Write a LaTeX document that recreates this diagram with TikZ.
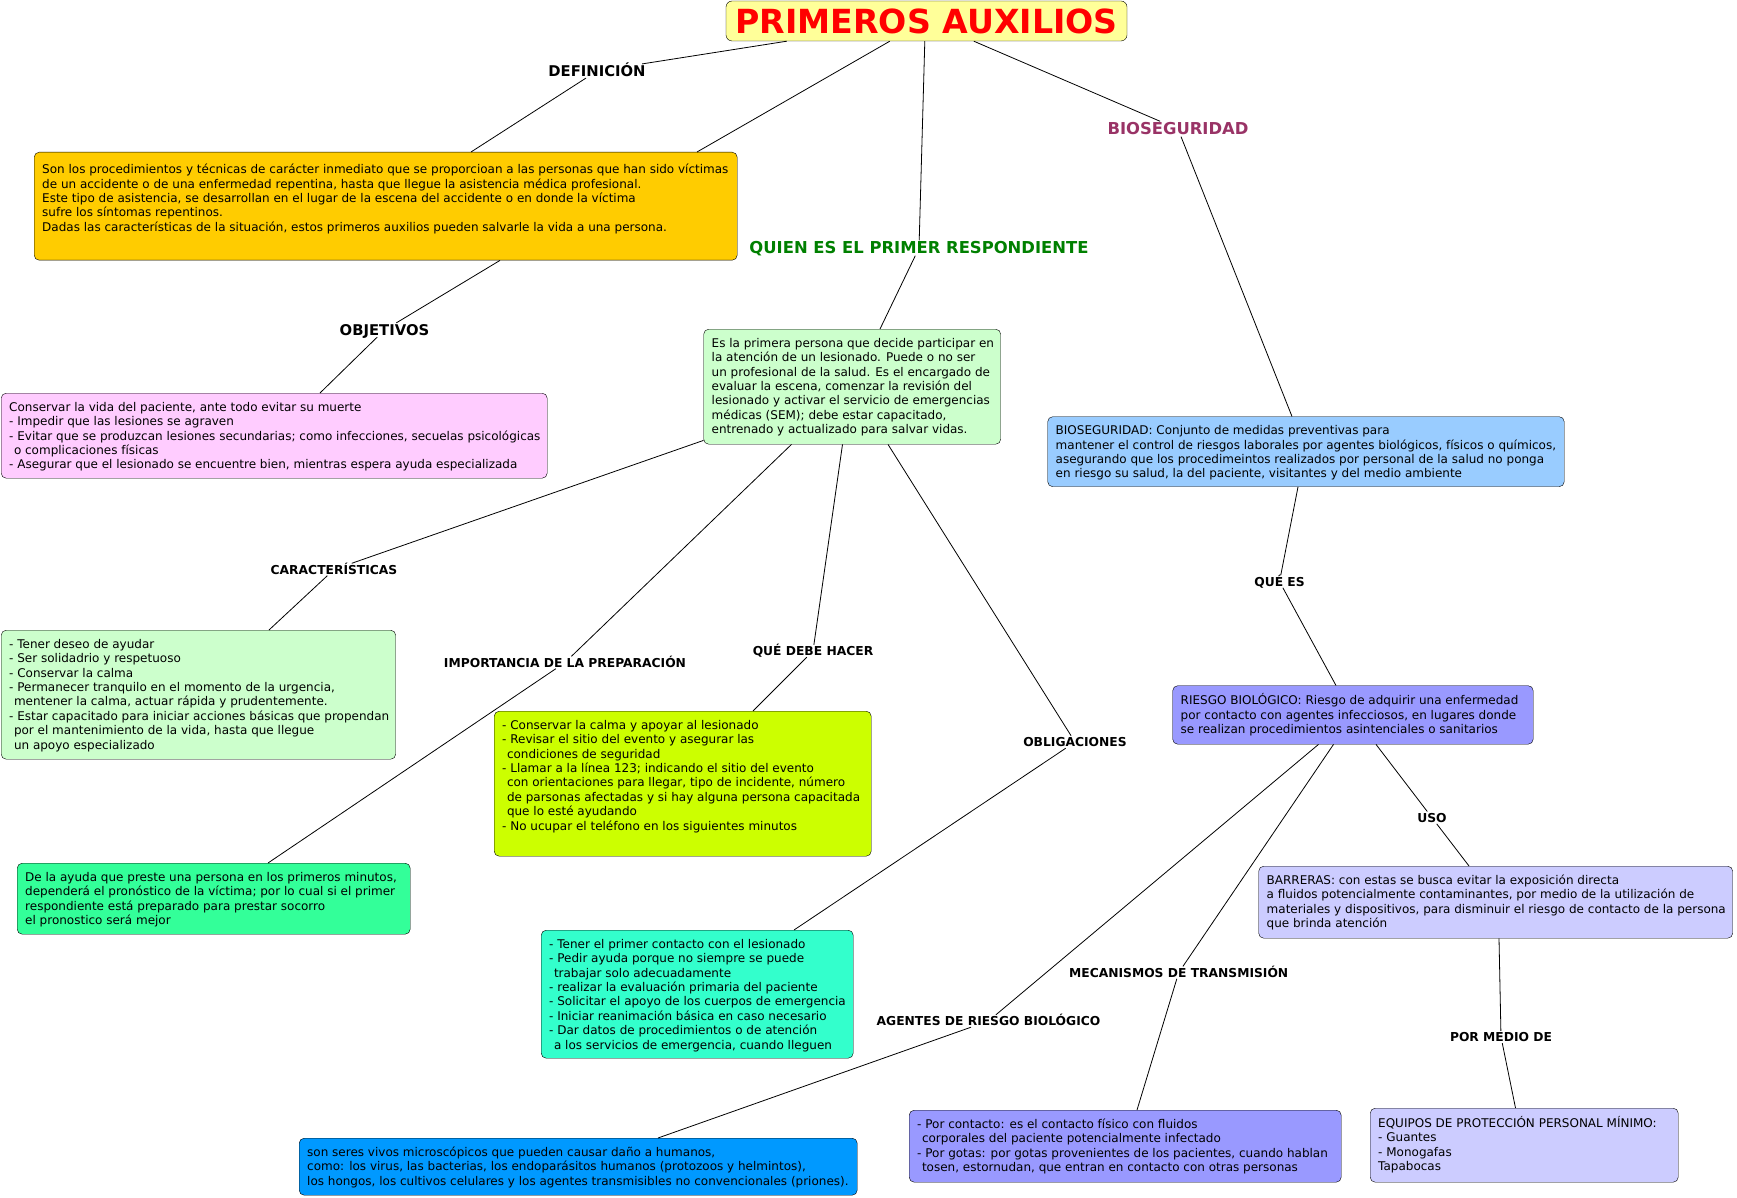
\documentclass[tikz,border=0pt]{standalone}
\usepackage{fontspec}
\setmainfont{DejaVu Sans}
\definecolor{titlefill}{HTML}{FFFF99}
\definecolor{defcol}{HTML}{FFCC00}
\definecolor{objcol}{HTML}{FFCCFF}
\definecolor{mintcol}{HTML}{CCFFCC}
\definecolor{impcol}{HTML}{33FF99}
\definecolor{limecol}{HTML}{CCFF00}
\definecolor{aquacol}{HTML}{33FFCC}
\definecolor{skycol}{HTML}{99CCFF}
\definecolor{violetcol}{HTML}{9999FF}
\definecolor{lilaccol}{HTML}{CCCCFF}
\definecolor{bluecol}{HTML}{0099FF}
\definecolor{biolabel}{HTML}{993366}
\definecolor{quienlabel}{HTML}{008000}
\newcommand{\boxlines}[4][0pt]{\vbox to #3{\vskip#1\hbox to #2{\begin{tabular}[t]{@{}l@{}}#4\end{tabular}\hss}\vss}}

\begin{document}
\begin{tikzpicture}[x=1pt, y=-1pt,
    titlebox/.style={draw, rounded corners=6pt, fill=titlefill, text=red, inner sep=0pt,
                     font=\bfseries\fontsize{33.2}{36}\selectfont,
                     minimum width=401pt, minimum height=40pt},
    cbox/.style={draw, rounded corners=5pt, anchor=north west, inner sep=8pt,
                 font=\fontsize{12}{14.4}\selectfont},
    lbl/.style={font=\bfseries\fontsize{12.3}{14}\selectfont, inner sep=1.5pt,
                text height=9pt, text depth=0pt},
    lblbig/.style={font=\bfseries\fontsize{14.8}{16}\selectfont, inner sep=1.5pt,
                   text height=10.8pt, text depth=0pt},
    lblcol/.style={font=\bfseries\fontsize{16.4}{18}\selectfont, inner sep=1.5pt,
                   text height=12pt, text depth=0pt},
    link/.style={line width=0.8pt}
  ]
  \useasboundingbox (0,0) rectangle (1737,1198);

  \node[titlebox] (title) at (926.5,21) {PRIMEROS AUXILIOS};

  \node[cbox, fill=defcol] (def) at (34,152) {\boxlines[3.5pt]{687pt}{92pt}{%
    Son los procedimientos y técnicas de carácter inmediato que se proporcioan a las personas que han sido víctimas\\
    de un accidente o de una enfermedad repentina, hasta que llegue la asistencia médica profesional.\\
    Este tipo de asistencia, se desarrollan en el lugar de la escena del accidente o en donde la víctima\\
    sufre los síntomas repentinos.\\
    Dadas las características de la situación, estos primeros auxilios pueden salvarle la vida a una persona.}};
  \node[cbox, fill=objcol] (obj) at (1,393) {\boxlines{530pt}{69pt}{%
    Conservar la vida del paciente, ante todo evitar su muerte\\
    - Impedir que las lesiones se agraven\\
    - Evitar que se produzcan lesiones secundarias; como infecciones, secuelas psicológicas\\
    \hspace*{.4em}o complicaciones físicas\\
    - Asegurar que el lesionado se encuentre bien, mientras espera ayuda especializada}};
  \node[cbox, fill=mintcol] (primer) at (703.5,329) {\boxlines{281pt}{99pt}{%
    Es la primera persona que decide participar en\\
    la atención de un lesionado. Puede o no ser\\
    un profesional de la salud. Es el encargado de\\
    evaluar la escena, comenzar la revisión del\\
    lesionado y activar el servicio de emergencias\\
    médicas (SEM); debe estar capacitado,\\
    entrenado y actualizado para salvar vidas.}};
  \node[cbox, fill=mintcol] (car) at (1,630) {\boxlines{378.5pt}{113pt}{%
    - Tener deseo de ayudar\\
    - Ser solidadrio y respetuoso\\
    - Conservar la calma\\
    - Permanecer tranquilo en el momento de la urgencia,\\
    \hspace*{.4em}mentener la calma, actuar rápida y prudentemente.\\
    - Estar capacitado para iniciar acciones básicas que propendan\\
    \hspace*{.4em}por el mantenimiento de la vida, hasta que llegue\\
    \hspace*{.4em}un apoyo especializado}};
  \node[cbox, fill=impcol] (imp) at (17,863) {\boxlines{377pt}{55pt}{%
    De la ayuda que preste una persona en los primeros minutos,\\
    dependerá el pronóstico de la víctima; por lo cual si el primer\\
    respondiente está preparado para prestar socorro\\
    el pronostico será mejor}};
  \node[cbox, fill=limecol] (que) at (494,711) {\boxlines{361pt}{129pt}{%
    - Conservar la calma y apoyar al lesionado\\
    - Revisar el sitio del evento y asegurar las\\
    \hspace*{.4em}condiciones de seguridad\\
    - Llamar a la línea 123; indicando el sitio del evento\\
    \hspace*{.4em}con orientaciones para llegar, tipo de incidente, número\\
    \hspace*{.4em}de parsonas afectadas y si hay alguna persona capacitada\\
    \hspace*{.4em}que lo esté ayudando\\
    - No ucupar el teléfono en los siguientes minutos}};
  \node[cbox, fill=aquacol] (obl) at (541,930) {\boxlines{296pt}{112pt}{%
    - Tener el primer contacto con el lesionado\\
    - Pedir ayuda porque no siempre se puede\\
    \hspace*{.4em}trabajar solo adecuadamente\\
    - realizar la evaluación primaria del paciente\\
    - Solicitar el apoyo de los cuerpos de emergencia\\
    - Iniciar reanimación básica en caso necesario\\
    - Dar datos de procedimientos o de atención\\
    \hspace*{.4em}a los servicios de emergencia, cuando lleguen}};
  \node[cbox, fill=skycol] (bioseg) at (1047.5,416.5) {\boxlines{500.5pt}{54pt}{%
    BIOSEGURIDAD: Conjunto de medidas preventivas para\\
    mantener el control de riesgos laborales por agentes biológicos, físicos o químicos,\\
    asegurando que los procedimeintos realizados por personal de la salud no ponga\\
    en riesgo su salud, la del paciente, visitantes y del medio ambiente}};
  \node[cbox, fill=violetcol] (riesgo) at (1172.5,685.5) {\boxlines{344.5pt}{42.5pt}{%
    RIESGO BIOLÓGICO: Riesgo de adquirir una enfermedad\\
    por contacto con agentes infecciosos, en lugares donde\\
    se realizan procedimientos asintenciales o sanitarios}};
  \node[cbox, fill=lilaccol] (barreras) at (1258.5,866) {\boxlines{458pt}{56pt}{%
    BARRERAS: con estas se busca evitar la exposición directa\\
    a fluidos potencialmente contaminantes, por medio de la utilización de\\
    materiales y dispositivos, para disminuir el riesgo de contacto de la persona\\
    que brinda atención}};
  \node[cbox, fill=bluecol] (agentes) at (299,1138) {\boxlines{542pt}{41pt}{%
    son seres vivos microscópicos que pueden causar daño a humanos,\\
    como: los virus, las bacterias, los endoparásitos humanos (protozoos y helmintos),\\
    los hongos, los cultivos celulares y los agentes transmisibles no convencionales (priones).}};
  \node[cbox, fill=violetcol] (meca) at (909,1110) {\boxlines{416pt}{56pt}{%
    - Por contacto: es el contacto físico con fluidos\\
    \hspace*{.4em}corporales del paciente potencialmente infectado\\
    - Por gotas: por gotas provenientes de los pacientes, cuando hablan\\
    \hspace*{.4em}tosen, estornudan, que entran en contacto con otras personas}};
  \node[cbox, fill=lilaccol] (equipos) at (1370,1108) {\boxlines{292pt}{58pt}{%
    EQUIPOS DE PROTECCIÓN PERSONAL MÍNIMO:\\
    - Guantes\\
    - Monogafas\\
    Tapabocas}};

  \node[lblbig] (lDef) at (597,71) {DEFINICIÓN};
  \node[lblbig] (lObj) at (384.5,330) {OBJETIVOS};
  \node[lblcol, text=quienlabel] (lQuien) at (919,248) {QUIEN ES EL PRIMER RESPONDIENTE};
  \node[lblcol, text=biolabel] (lBio) at (1178,129) {BIOSEGURIDAD};
  \node[lbl] (lCar) at (334,569.5) {CARACTERÍSTICAS};
  \node[lbl] (lImp) at (565,662.5) {IMPORTANCIA DE LA PREPARACIÓN};
  \node[lbl] (lQue) at (813,651) {QUÉ DEBE HACER};
  \node[lbl] (lObl) at (1075,742) {OBLIGACIONES};
  \node[lbl] (lQueEs) at (1279.5,581.6) {QUÉ ES};
  \node[lbl] (lUso) at (1432,817.7) {USO};
  \node[lbl] (lMec) at (1178.7,972.6) {MECANISMOS DE TRANSMISIÓN};
  \node[lbl] (lAge) at (988.5,1021) {AGENTES DE RIESGO BIOLÓGICO};
  \node[lbl] (lPor) at (1501,1037) {POR MEDIO DE};

  \draw[link] ([xshift=61pt]title.south west) -- (lDef) -- ([xshift=437pt]def.north west);
  \draw[link] ([xshift=164pt]title.south west) -- ([xshift=663pt]def.north west);
  \draw[link] ([xshift=199pt]title.south west) -- (lQuien) -- ([xshift=176.5pt]primer.north west);
  \draw[link] ([xshift=248pt]title.south west) -- (lBio) -- ([xshift=244.5pt]bioseg.north west);
  \draw[link] ([xshift=466pt]def.south west) -- (lObj) -- ([xshift=319pt]obj.north west);
  \draw[link] ([yshift=4pt]primer.south west) -- (lCar) -- ([xshift=268pt]car.north west);
  \draw[link] ([xshift=88pt]primer.south west) -- (lImp) -- ([xshift=251pt]imp.north west);
  \draw[link] ([xshift=139pt]primer.south west) -- (lQue) -- ([xshift=259pt]que.north west);
  \draw[link] ([xshift=184.5pt]primer.south west) -- (lObl) -- ([xshift=253pt]obl.north west);
  \draw[link] ([xshift=250.5pt]bioseg.south west) -- (lQueEs) -- ([xshift=163.5pt]riesgo.north west);
  \draw[link] ([xshift=203.5pt]riesgo.south west) -- (lUso) -- ([xshift=210.5pt]barreras.north west);
  \draw[link] ([xshift=146pt]riesgo.south west) -- (lAge) -- ([xshift=359pt]agentes.north west);
  \draw[link] ([xshift=161pt]riesgo.south west) -- (lMec) -- ([xshift=228pt]meca.north west);
  \draw[link] ([xshift=240.5pt]barreras.south west) -- (lPor) -- ([xshift=145.5pt]equipos.north west);
\end{tikzpicture}
\end{document}
